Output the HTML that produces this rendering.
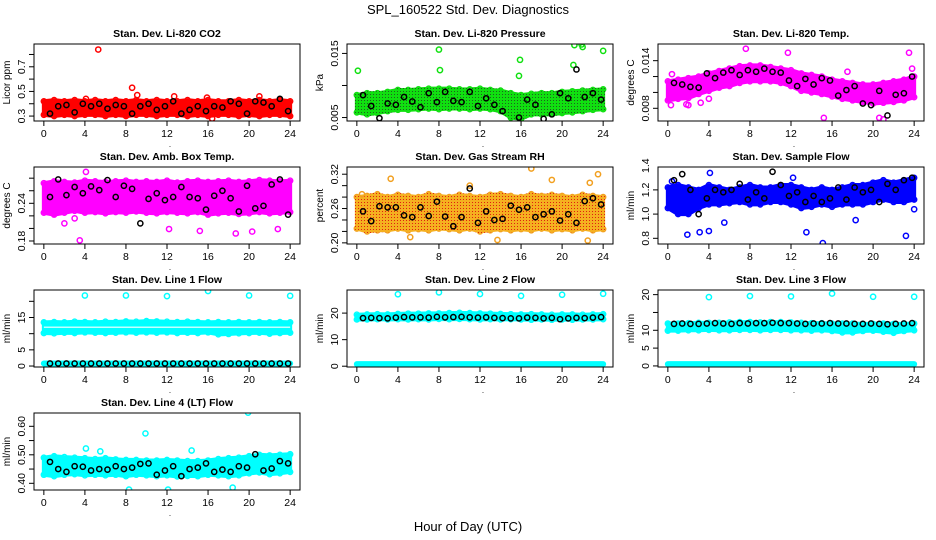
<!DOCTYPE html>
<html><head><meta charset="utf-8"><style>
html,body{margin:0;padding:0;background:#fff;}
svg{display:block;font-family:"Liberation Sans",sans-serif;}
</style></head><body>
<svg id="chart" width="936" height="540" viewBox="0 0 936 540" xmlns="http://www.w3.org/2000/svg">
<defs>
<pattern id="pat-green" width="3" height="3" patternUnits="userSpaceOnUse"><rect width="3" height="3" fill="#10e010"/><rect x="1" y="1" width="1" height="1" fill="#206020"/></pattern>
<pattern id="pat-orange" width="3" height="3" patternUnits="userSpaceOnUse"><rect width="3" height="3" fill="#f5b020"/><rect x="1" y="1" width="1" height="1" fill="#e02010"/></pattern>
</defs>
<text x="468" y="14" text-anchor="middle" font-size="13">SPL_160522  Std. Dev. Diagnostics</text>
<text x="468" y="531" text-anchor="middle" font-size="13">Hour of Day (UTC)</text>
<g id="panels"></g>
</svg>
<script>
const hours=[0,1,2,3,4,5,6,7,8,9,10,11,12,13,14,15,16,17,18,19,20,21,22,23,24];
const blkX=[0.6,1.4,2.2,3.0,3.8,4.6,5.4,6.2,7.0,7.8,8.6,9.4,10.2,11.0,11.8,12.6,13.4,14.2,15.0,15.8,16.6,17.4,18.2,19.0,19.8,20.6,21.4,22.2,23.0,23.8];
const xTicks=[0,4,8,12,16,20,24];

const co2Lo=[0.31,0.30,0.31,0.30,0.31,0.31,0.30,0.31,0.30,0.31,0.31,0.30,0.31,0.31,0.30,0.31,0.30,0.31,0.31,0.30,0.31,0.30,0.31,0.31,0.30];
const co2Hi=[0.42,0.43,0.42,0.43,0.42,0.43,0.42,0.43,0.42,0.43,0.42,0.43,0.42,0.42,0.43,0.42,0.43,0.42,0.42,0.43,0.42,0.43,0.42,0.43,0.42];
const co2Blk=[0.32,0.38,0.39,0.33,0.40,0.38,0.40,0.36,0.39,0.38,0.32,0.38,0.40,0.35,0.38,0.42,0.32,0.35,0.38,0.34,0.38,0.37,0.42,0.40,0.32,0.42,0.41,0.38,0.44,0.34];
const co2OutX=[5.3,8.6,9.1,12.7,16.4,15.9,4.1,21.0];
const co2OutY=[0.84,0.53,0.47,0.46,0.28,0.45,0.44,0.46];

const prLo=[0.0058,0.0055,0.0057,0.0060,0.0062,0.0062,0.0063,0.0064,0.0063,0.0064,0.0064,0.0063,0.0064,0.0063,0.0060,0.0050,0.0048,0.0055,0.0055,0.0055,0.0057,0.0058,0.0060,0.0062,0.0063];
const prHi=[0.0085,0.0088,0.0088,0.0090,0.0093,0.0093,0.0094,0.0095,0.0095,0.0095,0.0094,0.0094,0.0095,0.0093,0.0092,0.0088,0.0085,0.0087,0.0088,0.0088,0.0090,0.0091,0.0092,0.0093,0.0094];
const prBlk=[0.0085,0.0068,0.0049,0.0072,0.0070,0.0082,0.0075,0.0066,0.0088,0.0074,0.0090,0.0076,0.0074,0.0090,0.0068,0.0080,0.0070,0.0060,0.0040,0.0050,0.0078,0.0070,0.0048,0.0055,0.0088,0.0080,0.0125,0.0082,0.0088,0.0078];
const prOutX=[0.1,4.1,8.0,8.1,11.9,15.9,15.8,19.9,21.2,21.1,21.9,22.0,24.0,15.3];
const prOutY=[0.0123,0.0185,0.0156,0.0124,0.0170,0.0140,0.0115,0.0199,0.0163,0.0132,0.0164,0.0160,0.0154,0.0040];

const tpLo=[0.0090,0.0092,0.0093,0.0098,0.0102,0.0106,0.0108,0.0112,0.0114,0.0114,0.0114,0.0112,0.0108,0.0102,0.0100,0.0098,0.0095,0.0092,0.0090,0.0088,0.0086,0.0087,0.0088,0.0090,0.0094];
const tpHi=[0.0114,0.0116,0.0118,0.0120,0.0124,0.0127,0.0130,0.0133,0.0134,0.0134,0.0132,0.0130,0.0128,0.0124,0.0122,0.0120,0.0116,0.0114,0.0112,0.0110,0.0110,0.0112,0.0114,0.0116,0.0120];
const tpBlk=[0.0112,0.0110,0.0107,0.0106,0.0124,0.0118,0.0125,0.0128,0.0122,0.0128,0.0126,0.0130,0.0126,0.0125,0.0115,0.0108,0.0117,0.0110,0.0118,0.0115,0.0096,0.0103,0.0108,0.0086,0.0084,0.0102,0.0071,0.0097,0.0099,0.0120];
const tpOutX=[0.3,0.4,1.8,3.2,4.0,7.6,11.7,15.2,17.5,20.6,21.0,23.5,23.8,2.0];
const tpOutY=[0.0084,0.0123,0.0085,0.0087,0.0092,0.0155,0.0150,0.0068,0.0126,0.0068,0.0066,0.0150,0.0130,0.0084];

const abLo=[0.225,0.222,0.225,0.228,0.225,0.226,0.224,0.226,0.225,0.227,0.225,0.224,0.226,0.225,0.224,0.226,0.222,0.224,0.225,0.223,0.224,0.226,0.224,0.225,0.226];
const abHi=[0.272,0.275,0.274,0.273,0.276,0.275,0.274,0.275,0.276,0.274,0.275,0.274,0.276,0.273,0.275,0.276,0.274,0.275,0.276,0.274,0.275,0.277,0.276,0.275,0.276];
const abBlk=[0.250,0.278,0.253,0.266,0.256,0.267,0.261,0.277,0.250,0.268,0.263,0.208,0.247,0.256,0.245,0.250,0.266,0.250,0.248,0.230,0.252,0.260,0.248,0.227,0.268,0.232,0.236,0.270,0.278,0.222];
const abOutX=[3.5,2.0,12.2,15.2,18.7,20.3,22.8,4.1,0.5,3.0];
const abOutY=[0.181,0.208,0.199,0.196,0.192,0.195,0.199,0.290,0.227,0.216];

const rhLo=[0.225,0.220,0.222,0.222,0.225,0.222,0.224,0.222,0.225,0.224,0.222,0.225,0.220,0.222,0.224,0.222,0.224,0.222,0.225,0.222,0.224,0.222,0.225,0.222,0.224];
const rhHi=[0.280,0.282,0.285,0.280,0.284,0.282,0.280,0.285,0.282,0.280,0.284,0.282,0.280,0.284,0.285,0.282,0.280,0.285,0.282,0.284,0.282,0.280,0.284,0.282,0.280];
const rhBlk=[0.255,0.238,0.264,0.262,0.262,0.248,0.245,0.262,0.247,0.272,0.246,0.229,0.245,0.295,0.235,0.255,0.240,0.242,0.265,0.258,0.262,0.245,0.250,0.255,0.239,0.250,0.235,0.273,0.278,0.267];
const rhOutX=[17.0,23.5,22.5,13.7,5.2,0.5,3.3,11.0,19.0,22.7];
const rhOutY=[0.330,0.320,0.204,0.205,0.210,0.285,0.312,0.300,0.310,0.305];

const sfLo=[1.05,1.00,1.00,1.05,1.08,1.08,1.09,1.10,1.08,1.08,1.10,1.10,1.08,1.05,1.06,1.08,1.06,1.08,1.08,1.08,1.10,1.12,1.10,1.10,1.12];
const sfHi=[1.22,1.24,1.22,1.20,1.24,1.22,1.20,1.22,1.24,1.22,1.22,1.24,1.24,1.22,1.20,1.22,1.20,1.22,1.24,1.24,1.26,1.28,1.26,1.28,1.30];
const sfBlk=[1.28,1.33,1.20,1.00,1.13,1.20,1.18,1.20,1.25,1.12,1.18,1.13,1.35,1.24,1.15,1.18,1.10,1.15,1.10,1.13,1.22,1.12,1.22,1.18,1.20,1.10,1.25,1.20,1.28,1.30];
const sfOutX=[1.9,3.1,4.0,5.5,13.5,15.1,18.3,23.2,24.0,0.4,12.2,4.1];
const sfOutY=[0.83,0.85,0.86,0.93,0.85,0.76,0.95,0.82,1.04,1.27,1.30,1.34];

const l1Lo=[10.2,10.1,10.3,10.2,10.4,10.3,10.2,10.3,10.4,10.3,10.4,10.3,10.4,10.2,10.3,10.2,10.4,9.8,9.9,10.1,10.2,10.3,10.0,10.2,10.3];
const l1Hi=[13.5,13.6,13.5,13.7,13.6,13.5,13.7,13.6,13.8,13.7,13.9,13.8,13.7,13.6,13.7,13.6,13.5,13.6,13.5,13.6,13.5,13.6,13.5,13.6,13.5];
const l1Blk=[0.8,0.8,0.8,0.8,0.8,0.8,0.8,0.8,0.8,0.8,0.8,0.8,0.8,0.8,0.8,0.8,0.8,0.8,0.8,0.8,0.8,0.8,0.8,0.8,0.8,0.8,0.8,0.8,0.8,0.8];
const l1OutX=[4,8,12,16,20,24];
const l1OutY=[21.8,21.8,21.6,23.2,21.8,21.7];

const l2Lo=[17.6,17.6,17.7,17.6,17.7,17.6,17.7,17.6,17.8,17.7,17.8,17.7,17.6,17.7,17.6,17.7,17.6,17.5,17.6,17.5,17.6,17.5,17.6,17.6,17.7];
const l2Hi=[19.4,19.5,19.6,19.5,19.7,19.8,19.8,19.9,19.9,20.0,20.1,20.0,19.9,19.8,19.7,19.6,19.5,19.6,19.5,19.4,19.5,19.5,19.4,19.5,19.6];
const l2Blk=[18.1,18.2,18.1,18.0,18.3,18.5,18.4,18.4,18.3,18.6,18.4,18.5,18.6,18.4,18.3,18.4,18.2,18.1,18.0,18.0,18.3,18.2,18.0,18.2,17.7,18.0,18.2,18.1,18.3,18.5];
const l2OutX=[4,8,12,16,20,24];
const l2OutY=[27.1,27.8,27.2,26.5,26.9,27.3];

const l3Lo=[9.9,9.9,10.0,10.0,10.1,10.0,10.0,10.1,10.1,10.0,10.1,10.1,10.0,10.0,9.9,10.0,9.8,9.4,9.4,9.8,9.9,9.6,9.3,9.8,10.0];
const l3Hi=[11.9,11.9,12.0,12.1,12.1,12.1,12.2,12.3,12.3,12.2,12.3,12.3,12.2,12.1,12.0,12.0,11.9,11.9,11.9,11.8,11.8,11.9,11.8,11.8,11.9];
const l3Blk=[11.8,11.9,11.8,11.8,11.9,12.0,11.9,11.8,12.0,11.9,12.0,12.0,12.1,12.0,12.0,11.9,11.8,11.9,11.9,12.0,11.9,11.9,11.8,11.8,11.9,11.8,11.7,11.8,11.9,12.0];
const l3OutX=[4,8,12,16,20,24];
const l3OutY=[19.3,19.6,19.5,20.3,19.4,19.4];

const l4Lo=[0.430,0.425,0.430,0.432,0.428,0.430,0.428,0.430,0.425,0.430,0.428,0.425,0.428,0.424,0.426,0.425,0.430,0.428,0.425,0.428,0.435,0.438,0.432,0.435,0.440];
const l4Hi=[0.490,0.495,0.492,0.490,0.488,0.485,0.488,0.484,0.482,0.482,0.480,0.480,0.482,0.480,0.478,0.478,0.480,0.485,0.488,0.490,0.495,0.500,0.498,0.500,0.502];
const l4Blk=[0.475,0.450,0.440,0.460,0.458,0.445,0.450,0.448,0.460,0.450,0.455,0.468,0.470,0.430,0.445,0.460,0.425,0.450,0.455,0.470,0.440,0.448,0.440,0.460,0.455,0.502,0.445,0.452,0.478,0.470];
const l4OutX=[4.1,9.9,19.9,5.5,12.1,18.4,14.4,8.3];
const l4OutY=[0.522,0.575,0.648,0.512,0.378,0.385,0.515,0.378];

const NS="http://www.w3.org/2000/svg";
const root=document.getElementById('panels');
function mk(tag,attrs,parent){const e=document.createElementNS(NS,tag);for(const k in attrs)e.setAttribute(k,attrs[k]);parent.appendChild(e);return e;}

const colX=[34,347,658], rowY=[44,167,290,413], W=266, H=77;

const panels=[
 {title:"Stan. Dev. Li-820 CO2",ylab:"Licor ppm",c:0,r:0,col:"#ff0000",fill:"#ff0000",yT:0.885,yB:0.26,ticks:[0.3,0.4,0.5,0.6,0.7,0.8],labs:[0.3,0.5,0.7],dec:1,lo:co2Lo,hi:co2Hi,blk:co2Blk,ox:co2OutX,oy:co2OutY,key:"co2"},
 {title:"Stan. Dev. Li-820 Pressure",ylab:"kPa",c:1,r:0,col:"#10e010",fill:"url(#pat-green)",yT:0.01647,yB:0.00446,ticks:[0.005,0.010,0.015,0.020],labs:[0.005,0.015],dec:3,lo:prLo,hi:prHi,blk:prBlk,ox:prOutX,oy:prOutY,key:"pressure"},
 {title:"Stan. Dev. Li-820 Temp.",ylab:"degrees C",c:2,r:0,col:"#ff00ff",fill:"#ff00ff",yT:0.0161,yB:0.0064,ticks:[0.008,0.010,0.012,0.014],labs:[0.008,0.014],dec:3,lo:tpLo,hi:tpHi,blk:tpBlk,ox:tpOutX,oy:tpOutY,key:"li820-temp"},
 {title:"Stan. Dev. Amb. Box Temp.",ylab:"degrees C",c:0,r:1,col:"#ff00ff",fill:"#ff00ff",yT:0.2978,yB:0.1752,ticks:[0.18,0.20,0.22,0.24,0.26,0.28],labs:[0.18,0.24],dec:2,lo:abLo,hi:abHi,blk:abBlk,ox:abOutX,oy:abOutY,key:"amb-box-temp"},
 {title:"Stan. Dev. Gas Stream RH",ylab:"percent",c:1,r:1,col:"#f2a020",fill:"url(#pat-orange)",yT:0.3326,yB:0.198,ticks:[0.20,0.22,0.24,0.26,0.28,0.30,0.32],labs:[0.20,0.26,0.32],dec:2,lo:rhLo,hi:rhHi,blk:rhBlk,ox:rhOutX,oy:rhOutY,key:"gas-rh"},
 {title:"Stan. Dev. Sample Flow",ylab:"ml/min",c:2,r:1,col:"#0000ff",fill:"#0000ff",yT:1.389,yB:0.753,ticks:[0.8,1.0,1.2,1.4],labs:[0.8,1.0,1.2,1.4],dec:1,lo:sfLo,hi:sfHi,blk:sfBlk,ox:sfOutX,oy:sfOutY,key:"sample-flow"},
 {title:"Stan. Dev. Line 1 Flow",ylab:"ml/min",c:0,r:2,col:"#00ffff",fill:"#00ffff",yT:23.5,yB:-0.3,ticks:[0,5,10,15,20],labs:[0,5,15],dec:0,lo:l1Lo,hi:l1Hi,blk:l1Blk,ox:l1OutX,oy:l1OutY,base:0.8,gap:12.0,key:"line1-flow"},
 {title:"Stan. Dev. Line 2 Flow",ylab:"ml/min",c:1,r:2,col:"#00ffff",fill:"#00ffff",yT:28.7,yB:-0.3,ticks:[0,10,20],labs:[0,10,20],dec:0,lo:l2Lo,hi:l2Hi,blk:l2Blk,ox:l2OutX,oy:l2OutY,base:0.8,key:"line2-flow"},
 {title:"Stan. Dev. Line 3 Flow",ylab:"ml/min",c:2,r:2,col:"#00ffff",fill:"#00ffff",yT:21.3,yB:-0.3,ticks:[0,5,10,15,20],labs:[0,5,10,20],dec:0,lo:l3Lo,hi:l3Hi,blk:l3Blk,ox:l3OutX,oy:l3OutY,base:0.5,key:"line3-flow"},
 {title:"Stan. Dev. Line 4 (LT) Flow",ylab:"ml/min",c:0,r:3,col:"#00ffff",fill:"#00ffff",yT:0.6467,yB:0.3765,ticks:[0.40,0.45,0.50,0.55,0.60],labs:[0.40,0.50,0.60],dec:2,lo:l4Lo,hi:l4Hi,blk:l4Blk,ox:l4OutX,oy:l4OutY,key:"line4-flow"}
];

panels.forEach(p=>{
 const x0=colX[p.c], y0=rowY[p.r];
 const g=mk('g',{},root);
 
 
 const sx=h=>x0+(h+0.96)/25.92*W;
 const sy=v=>y0+(p.yT-v)/(p.yT-p.yB)*H;
 const clip='clip-'+p.key;
 const cp=mk('clipPath',{id:clip},g); mk('rect',{x:x0,y:y0,width:W,height:H},cp);
 const pg=mk('g',{'clip-path':'url(#'+clip+')'},g);
 let pts=hours.map((h,i)=>sx(h)+','+sy(p.hi[i]));
 pts=pts.concat(hours.slice().reverse().map((h,j)=>{const i=hours.length-1-j;return sx(h)+','+sy(p.lo[i]);}));
 hours.forEach((h,i)=>{
  [p.lo[i],p.hi[i]].forEach(v=>{mk('circle',{cx:sx(h),cy:sy(v),r:2.6,fill:'none',stroke:p.col,'stroke-width':1.4},pg);});
 });
 const band=mk('polygon',{points:pts.join(' '),fill:p.fill,stroke:p.fill,'stroke-width':4,'stroke-linejoin':'round'},pg);
 
 
 if(p.gap!==undefined){mk('line',{x1:sx(0),x2:sx(24),y1:sy(p.gap),y2:sy(p.gap),stroke:'#fff','stroke-width':1.2},pg);}
 if(p.base!==undefined){
  const bl=mk('line',{x1:sx(0),x2:sx(24),y1:sy(p.base),y2:sy(p.base),stroke:p.col,'stroke-width':6,'stroke-linecap':'round'},pg);
  
  
 }
 p.ox.forEach((h,i)=>{
  const c=mk('circle',{cx:sx(h),cy:sy(p.oy[i]),r:2.6,fill:'none',stroke:p.col,'stroke-width':1.5},pg);
  
  
 });
 blkX.forEach((h,i)=>{
  const c=mk('circle',{cx:sx(h),cy:sy(p.blk[i]),r:2.6,fill:'none',stroke:'#000','stroke-width':1.5},pg);
  
  
 });
 const box=mk('rect',{x:x0,y:y0,width:W,height:H,fill:'none',stroke:'#000','stroke-width':1},g);
 
 
 const xa=mk('g',{},g);
 
 
 xTicks.forEach(t=>{
  mk('line',{x1:sx(t),x2:sx(t),y1:y0+H,y2:y0+H+5,stroke:'#000','stroke-width':1},xa);
  const tx=mk('text',{x:sx(t),y:y0+H+16,'text-anchor':'middle','font-size':10.5},xa); tx.textContent=t;
 });
 const dot=mk('text',{x:x0+W/2+3,y:y0+H+26,'text-anchor':'middle','font-size':8},g); dot.textContent='.';
 const ya=mk('g',{},g);
 
 
 p.ticks.forEach(t=>{
  const yy=sy(t); if(yy<y0-0.5||yy>y0+H+0.5) return;
  mk('line',{x1:x0-5,x2:x0,y1:yy,y2:yy,stroke:'#000','stroke-width':1},ya);
 });
 p.labs.forEach(t=>{
  const yy=sy(t);
  const tx=mk('text',{x:x0-9,y:yy,'text-anchor':'middle','font-size':10.5,transform:'rotate(-90 '+(x0-9)+' '+yy+')'},ya);
  tx.textContent=t.toFixed(p.dec);
 });
 const yl=mk('text',{x:x0-24,y:y0+H/2,'text-anchor':'middle','font-size':10,transform:'rotate(-90 '+(x0-24)+' '+(y0+H/2)+')'},g);
 yl.textContent=p.ylab;
 
 
 const tt=mk('text',{x:x0+W/2,y:y0-7,'text-anchor':'middle','font-size':10.5,'font-weight':'bold'},g);
 tt.textContent=p.title;
 
 
});
</script>
</body></html>
